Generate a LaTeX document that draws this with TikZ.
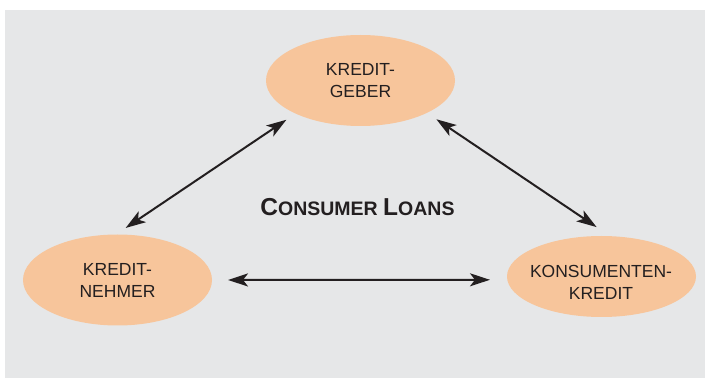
\documentclass[tikz,border=0pt]{standalone}
\usepackage{fontspec}
\setmainfont{Liberation Sans}
\usetikzlibrary{arrows.meta,shapes.geometric}
\definecolor{panelgray}{HTML}{E6E7E8}
\definecolor{peach}{HTML}{F7C59B}
\definecolor{ink}{HTML}{231F20}
\begin{document}
\begin{tikzpicture}[x=1pt,y=1pt,>={Stealth[length=20pt,width=13pt,inset=5pt]}, line join=round]
	\tikzset{blob/.style={ellipse, fill=peach, inner sep=0pt, outer sep=0pt, minimum width=189pt, minimum height=91pt},
		blobtext/.style={align=center, inner sep=0pt, text=ink, font=\fontsize{17.5}{22}\selectfont},
		link/.style={<->, line width=2pt, draw=ink}}
	\useasboundingbox (0,0) rectangle (705,378);
	\fill[panelgray] (5,0) rectangle (705,368);
	% the three partners
	\node[blob] (geber) at (360.5,297.5) {};
	\node[blob] (nehmer) at (117.5,98) {};
	\node[blob, minimum height=81pt] (konsum) at (601.5,101.5) {};
	\node[blobtext] (gebertext) at (360.5,297.5) {KREDIT-\\GEBER};
	\node[blobtext] (nehmertext) at (117.5,98) {KREDIT-\\NEHMER};
	\node[blobtext] (konsumtext) at (601,95.5) {KONSUMENTEN-\\KREDIT};
	\node[anchor=base, text=ink, inner sep=0pt] (title) at (357.5,162)
		{\bfseries\fontsize{24.5}{24}\selectfont C\fontsize{19.5}{24}\selectfont ONSUMER \fontsize{24.5}{24}\selectfont L\fontsize{19.5}{24}\selectfont OANS};
	% links
	\draw[link, shorten <=11.1pt, shorten >=11.75pt] (geber.207.4)--(nehmer.92.9);
	\draw[link, shorten <=11.45pt, shorten >=16.25pt] (geber.334.4)--(konsum.78.9);
	\draw[link, shorten <=16pt, shorten >=17.35pt] (nehmer.0)--(konsum.182.1);
\end{tikzpicture}
\end{document}
